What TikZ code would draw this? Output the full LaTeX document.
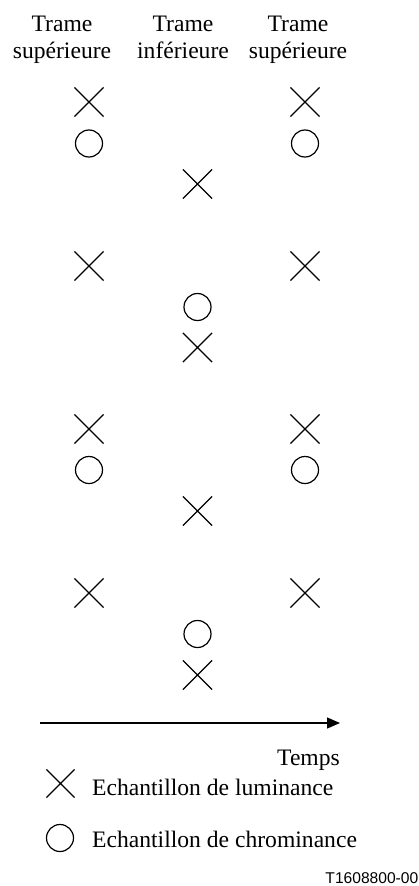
\documentclass[tikz,border=0pt]{standalone}
\usepackage{fontspec}
\setmainfont{Liberation Serif}
\newfontfamily\labelsans{Liberation Sans}
\usetikzlibrary{shapes.misc,arrows.meta}
\begin{document}
\begin{tikzpicture}[x=1pt,y=-1pt,
  lum/.style={draw,cross out,minimum size=28pt,inner sep=0pt,line width=1.2pt},
  chr/.style={draw,circle,minimum size=27pt,inner sep=0pt,line width=1.2pt},
  txt/.style={font=\fontsize{23.6}{28}\selectfont,inner sep=0pt},
  ]
\useasboundingbox (0,0) rectangle (419,886);
% headers
\node[txt,anchor=base] (h1a) at (62,31) {Trame};
\node[txt,anchor=base] (h1b) at (62,58) {supérieure};
\node[txt,anchor=base] (h2a) at (183,31) {Trame};
\node[txt,anchor=base] (h2b) at (183,58) {inférieure};
\node[txt,anchor=base] (h3a) at (298,31) {Trame};
\node[txt,anchor=base] (h3b) at (298,58) {supérieure};
% group 1
\node[lum] (l1) at (89,102) {};
\node[chr] (c1) at (89,143.5) {};
\node[lum] (r1) at (305,102) {};
\node[chr] (rc1) at (305,143.5) {};
\node[lum] (m1) at (197.5,184) {};
% group 2
\node[lum] (l2) at (89,266) {};
\node[lum] (r2) at (305,266) {};
\node[chr] (mc2) at (197.5,307) {};
\node[lum] (m2) at (197.5,347.5) {};
% group 3
\node[lum] (l3) at (89,429) {};
\node[chr] (c3) at (89,470) {};
\node[lum] (r3) at (305,429) {};
\node[chr] (rc3) at (305,470) {};
\node[lum] (m3) at (197.5,511) {};
% group 4
\node[lum] (l4) at (89,593) {};
\node[lum] (r4) at (305,593) {};
\node[chr] (mc4) at (197.5,634) {};
\node[lum] (m4) at (197.5,675) {};
% time arrow
\coordinate (ta) at (40,723);
\coordinate (tb) at (340,723);
\draw[line width=1.2pt,-{Triangle[length=13pt,width=11pt]}] (ta) -- (tb);
\node[txt,anchor=base east] (temps) at (340,765) {Temps};
% legend
\node[lum,minimum size=27pt] (leglum) at (60.5,783.5) {};
\node[txt,anchor=base west] (leglumt) at (92,795) {Echantillon de luminance};
\node[chr] (legchr) at (60,838) {};
\node[txt,anchor=base west] (legchrt) at (92,847) {Echantillon de chrominance};
\node[anchor=base east,inner sep=0pt,font=\labelsans\fontsize{15.6}{18}\selectfont] (ref) at (418.5,883.5) {T1608800-00};
\end{tikzpicture}
\end{document}
